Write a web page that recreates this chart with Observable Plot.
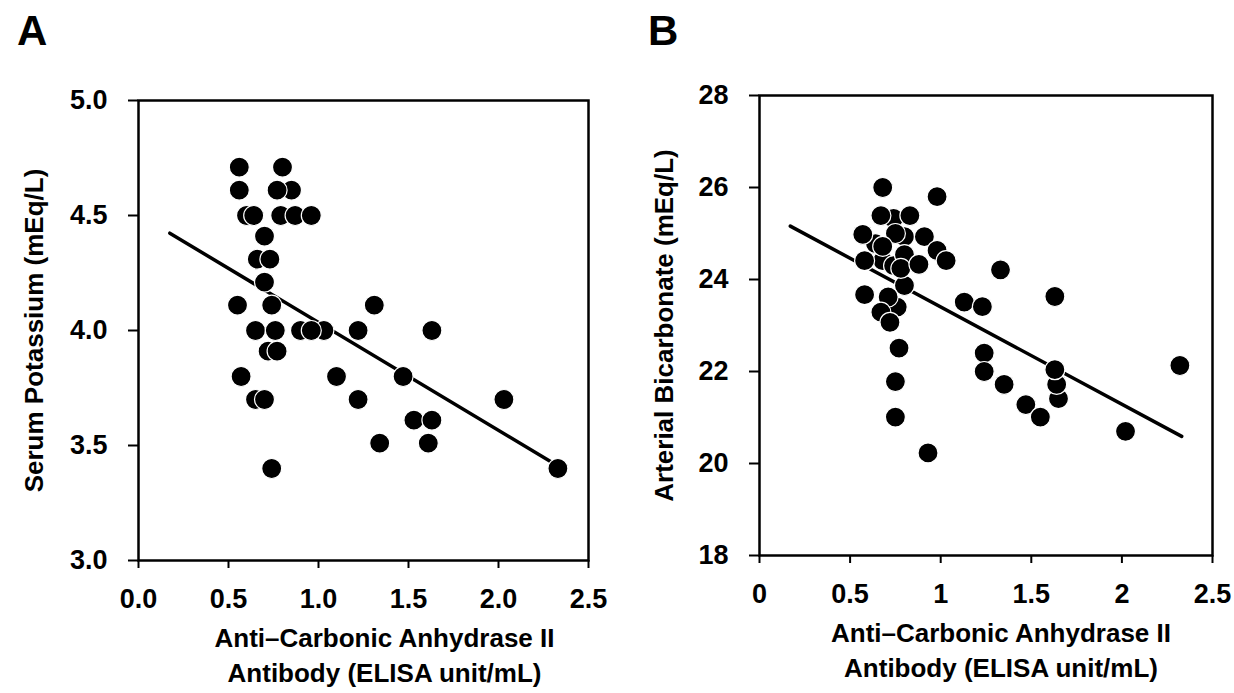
<!DOCTYPE html>
<html><head><meta charset="utf-8">
<script src="https://cdn.jsdelivr.net/npm/d3@7"></script>
<script src="https://cdn.jsdelivr.net/npm/@observablehq/plot@0.6"></script>
<style>
body{margin:0;background:#fff;}
#wrap{position:relative;width:1234px;height:693px;font-family:"Liberation Sans",Arial,sans-serif;overflow:hidden;}
.panel{position:absolute;top:0;}
.tag{position:absolute;font-weight:bold;font-size:42px;line-height:1;color:#000;}
</style></head><body>
<div id="wrap">
  <div id="pa" class="panel" style="left:0px"></div>
  <div id="pb" class="panel" style="left:617px"></div>
  <div class="tag" style="left:17px;top:10px">A</div>
  <div class="tag" style="left:648px;top:10px">B</div>
</div>
<script>
// ---- Panel A: serum potassium vs anti-CA II antibody ----
const potassiumAntibody = [0.56, 0.80, 0.56, 0.85, 0.77, 0.60, 0.64, 0.79, 0.87, 0.96, 0.70, 0.66, 0.73, 0.70, 0.55, 0.74, 1.31, 0.65, 0.76, 0.90, 1.03, 0.96, 1.22, 1.63, 0.72, 0.77, 0.57, 1.10, 1.47, 0.65, 0.70, 1.22, 2.03, 1.53, 1.63, 1.34, 1.61, 0.74, 2.33];
const potassiumValue    = [4.71, 4.71, 4.61, 4.61, 4.61, 4.50, 4.50, 4.50, 4.50, 4.50, 4.41, 4.31, 4.31, 4.21, 4.11, 4.11, 4.11, 4.00, 4.00, 4.00, 4.00, 4.00, 4.00, 4.00, 3.91, 3.91, 3.80, 3.80, 3.80, 3.70, 3.70, 3.70, 3.70, 3.61, 3.61, 3.51, 3.51, 3.40, 3.40];
const potassiumFitX = [0.174, 2.326];
const potassiumFitY = [4.423, 3.413];
const potassiumXTicks = [0, 0.5, 1.0, 1.5, 2.0, 2.5];
const potassiumYTicks = [3.0, 3.5, 4.0, 4.5, 5.0];

// ---- Panel B: arterial bicarbonate vs anti-CA II antibody ----
const bicarbAntibody = [0.74, 0.80, 0.64, 0.68, 0.74, 0.76, 0.80, 0.68, 0.98, 0.67, 0.83, 0.57, 0.75, 0.91, 0.68, 0.98, 1.03, 0.58, 0.80, 0.78, 0.88, 1.33, 0.58, 0.71, 0.67, 0.72, 1.13, 1.23, 1.63, 0.77, 0.75, 0.75, 0.93, 1.24, 1.24, 1.35, 1.47, 1.55, 1.65, 1.64, 1.63, 2.02, 2.32];
const bicarbValue    = [25.33, 24.93, 24.78, 24.41, 24.30, 23.40, 23.87, 26.00, 25.80, 25.39, 25.39, 24.98, 25.00, 24.93, 24.72, 24.63, 24.41, 24.41, 24.54, 24.24, 24.33, 24.21, 23.67, 23.62, 23.29, 23.07, 23.51, 23.41, 23.63, 22.51, 21.78, 21.01, 20.23, 22.40, 22.00, 21.72, 21.28, 21.01, 21.41, 21.72, 22.04, 20.70, 22.13];
const bicarbFitX = [0.17, 2.33];
const bicarbFitY = [25.16, 20.59];
const bicarbXTicks = [0, 0.5, 1, 1.5, 2, 2.5];
const bicarbYTicks = [18, 20, 22, 24, 26, 28];

const xTitle = "Anti\u2013Carbonic Anhydrase II\nAntibody (ELISA unit/mL)";
const yTitleA = "Serum Potassium (mEq/L)";
const yTitleB = "Arterial Bicarbonate (mEq/L)";

const baseStyle = {fontFamily: "'Liberation Sans', Arial, sans-serif", fontSize: "27px", fontWeight: "bold", color: "#000", background: "#fff", overflow: "visible"};

function panel(o) {
  const pts = o.xs.map((x, i) => ({x, y: o.ys[i]}));
  const fit = o.fx.map((x, i) => ({x, y: o.fy[i]}));
  return Plot.plot({
    width: 617, height: 693,
    marginLeft: o.ml, marginRight: o.mr, marginTop: o.mt, marginBottom: o.mb,
    style: baseStyle,
    x: {domain: [0, 2.5]},
    y: {domain: o.ydom},
    marks: [
      Plot.axisY({ticks: o.yticks, tickFormat: o.yfmt, tickSize: 10, tickPadding: 21, strokeWidth: 2, label: null}),
      Plot.axisX({ticks: o.xticks, tickFormat: o.xfmt, tickSize: 8, tickPadding: 20, strokeWidth: 2, label: null}),
      Plot.frame({stroke: "#000", strokeWidth: 2.5}),
      Plot.line(fit, {x: "x", y: "y", stroke: "#000", strokeWidth: 3.5}),
      Plot.dot(pts, {x: "x", y: "y", r: 10, fill: "#000", stroke: "#fff", strokeWidth: 1.2}),
      Plot.text([xTitle], {text: d => d, frameAnchor: "bottom", lineAnchor: "top", dy: 62, dx: o.tdx, fontSize: 26, fontWeight: "bold", lineHeight: 1.34, fill: "#000"}),
      Plot.text([o.ytitle], {text: d => d, frameAnchor: "left", textAnchor: "middle", rotate: -90, dx: o.ydx, fontSize: 26, fontWeight: "bold", fill: "#000"})
    ]
  });
}

document.getElementById("pa").append(panel({
  xs: potassiumAntibody, ys: potassiumValue, fx: potassiumFitX, fy: potassiumFitY,
  ml: 138, mr: 29, mt: 100, mb: 133, ydom: [3, 5],
  yticks: potassiumYTicks, yfmt: d3.format(".1f"),
  xticks: potassiumXTicks, xfmt: d3.format(".1f"),
  tdx: 21, ytitle: yTitleA, ydx: -104
}));
document.getElementById("pb").append(panel({
  xs: bicarbAntibody, ys: bicarbValue, fx: bicarbFitX, fy: bicarbFitY,
  ml: 142, mr: 22, mt: 95, mb: 138, ydom: [18, 28],
  yticks: bicarbYTicks, yfmt: d => String(d),
  xticks: bicarbXTicks, xfmt: d => String(d),
  tdx: 15, ytitle: yTitleB, ydx: -95
}));
</script>
</body></html>
